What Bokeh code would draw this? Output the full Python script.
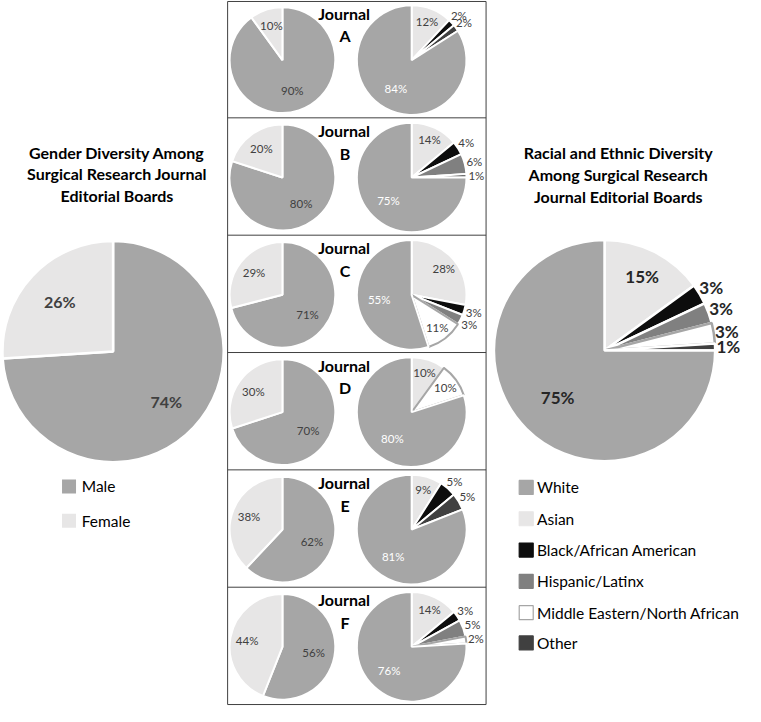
import numpy as np
from bokeh.plotting import figure
from bokeh.models import ColumnDataSource, Range1d
from bokeh.core.properties import value
from bokeh.embed import file_html
from bokeh.resources import INLINE

# ---------------- data ----------------
journals = ["A", "B", "C", "D", "E", "F"]
gender_cats = ["Male", "Female"]
male = [90, 80, 71, 70, 62, 56]
female = [10, 20, 29, 30, 38, 44]

race_cats = ["White", "Asian", "Black/African American", "Hispanic/Latinx",
             "Middle Eastern/North African", "Other"]
white = [84, 75, 55, 80, 81, 76]
asian = [12, 14, 28, 10, 9, 14]
black = [2, 4, 3, 0, 5, 3]
hispanic = [0, 6, 3, 0, 0, 5]
mena = [0, 0, 11, 10, 0, 2]
other = [2, 1, 0, 0, 5, 0]

overall_gender = [74, 26]            # Male, Female
overall_race = [75, 15, 3, 3, 3, 1]  # White, Asian, Black, Hispanic, MENA, Other

gender_title = ["Gender Diversity Among", "Surgical Research Journal", "Editorial Boards"]
race_title = ["Racial and Ethnic Diversity", "Among Surgical Research", "Journal Editorial Boards"]

# ---------------- styles ----------------
GCOL = {"Male": "#a6a6a6", "Female": "#e7e6e6"}
RCOL = {"White": "#a6a6a6", "Asian": "#e7e6e6", "Black/African American": "#0d0d0d",
        "Hispanic/Latinx": "#808080", "Middle Eastern/North African": "#ffffff",
        "Other": "#404040"}
RLINE = {c: "white" for c in race_cats}
RLINE["Middle Eastern/North African"] = "#a6a6a6"
FONT = value("Lato")
H = 722.0

p = figure(width=745, height=706, x_range=Range1d(0, 761), y_range=Range1d(0, H),
           output_backend="svg", toolbar_location=None, min_border=0)
p.axis.visible = False
p.grid.visible = False
p.outline_line_color = None
p.background_fill_color = "white"


def Y(v):
    return H - v


def pie(cx, cy, r, vals, cats, colors, lines, lw=2):
    vals = np.array(vals, dtype=float)
    frac = vals / vals.sum()
    cum = np.concatenate([[0], np.cumsum(frac)])
    keep = frac > 0
    src = ColumnDataSource(dict(
        start=(np.pi / 2 - 2 * np.pi * cum[1:])[keep],
        end=(np.pi / 2 - 2 * np.pi * cum[:-1])[keep],
        color=[colors[c] for c, k in zip(cats, keep) if k],
        line=[lines[c] for c, k in zip(cats, keep) if k],
    ))
    p.wedge(x=cx, y=Y(cy), radius=r, start_angle="start", end_angle="end",
            fill_color="color", line_color="line", line_width=lw, source=src)
    mids = (cum[:-1] + cum[1:]) / 2 * 2 * np.pi
    return frac, mids


def labels(cx, cy, r, vals, mids, ks, colors, size, bold):
    xs, ys, ts, cs = [], [], [], []
    for v, m, k, c in zip(vals, mids, ks, colors):
        if v <= 0:
            continue
        xs.append(cx + k * r * np.sin(m))
        ys.append(Y(cy) + k * r * np.cos(m))
        ts.append(f"{v:g}%")
        cs.append(c)
    p.text(x=xs, y=ys, text=ts, text_color=cs, text_font=FONT,
           text_font_size=size, text_font_style="bold" if bold else "normal",
           text_align="center", text_baseline="middle")


# ---------------- left: overall gender ----------------
g_order = ["Male", "Female"]
gv = overall_gender
fr, md = pie(115, 359, 113, gv, g_order, GCOL, {c: "white" for c in g_order}, 2.5)
labels(115, 359, 113, gv, md, [0.66, 0.66], ["#404040", "#404040"], "16px", True)

p.text(x=[119] * 3, y=[Y(155), Y(177), Y(199)], text=gender_title, text_font=FONT,
       text_font_size="16px", text_font_style="bold", text_color="black",
       text_align="center", text_baseline="middle")

p.scatter(x=[70, 70], y=[Y(497), Y(532)], marker="square", size=14,
          fill_color=[GCOL[c] for c in gender_cats], line_color=None)
p.text(x=[83, 83], y=[Y(497), Y(532)], text=gender_cats, text_font=FONT,
       text_font_size="15.5px", text_color="black", text_baseline="middle")

# ---------------- right: overall race ----------------
r_order = ["Asian", "Black/African American", "Hispanic/Latinx",
           "Middle Eastern/North African", "Other", "White"]
ov = dict(zip(race_cats, overall_race))
rv = [ov[c] for c in r_order]
fr, md = pie(617, 358, 113, rv, r_order, RCOL, RLINE, 2.5)
ks = [0.75 if v >= 9 else 1.12 for v in rv]
ks[-1] = 0.6
labels(617, 358, 113, rv, md, ks, ["#262626"] * 6, "17px", True)

p.text(x=[631] * 3, y=[Y(155), Y(178), Y(200)], text=race_title, text_font=FONT,
       text_font_size="16px", text_font_style="bold", text_color="black",
       text_align="center", text_baseline="middle")

ly = [498, 530, 562, 594, 626, 657]
p.scatter(x=[537] * 6, y=[Y(v) for v in ly], marker="square", size=14,
          fill_color=[RCOL[c] for c in race_cats],
          line_color=[RLINE[c] if c == "Middle Eastern/North African" else RCOL[c] for c in race_cats],
          line_width=1.2)
p.text(x=[548] * 6, y=[Y(v) for v in ly], text=race_cats, text_font=FONT,
       text_font_size="15.5px", text_color="black", text_baseline="middle")

# ---------------- centre: journals ----------------
race_series = dict(zip(race_cats, [white, asian, black, hispanic, mena, other]))
for i, j in enumerate(journals):
    top = 120 * i
    cy = top + 61
    # gender
    gv = [male[i], female[i]]
    fr, md = pie(288, cy, 54, gv, g_order, GCOL, {c: "white" for c in g_order}, 2)
    labels(288, cy, 54, gv, md, [0.6, 0.68], ["#404040", "#404040"], "11.5px", False)
    # race
    rv = [race_series[c][i] for c in r_order]
    fr, md = pie(420, cy, 56, rv, r_order, RCOL, RLINE, 2)
    ks = [0.76 if v >= 9 else 1.18 for v in rv]
    ks[-1] = 0.6
    cols = ["#404040"] * 5 + ["white"]
    labels(420, cy, 56, rv, md, ks, cols, "11.5px", False)
    # title
    p.text(x=[351, 352], y=[Y(top + 13), Y(top + 36)], text=["Journal", j],
           text_font=FONT, text_font_size="16px", text_font_style="bold",
           text_color="black", text_align="center", text_baseline="middle")

# box and dividers
p.quad(left=232, right=496, bottom=Y(720), top=Y(1), fill_color=None,
       line_color="#404040", line_width=1)
p.segment(x0=232, x1=496, y0=[Y(120 * k) for k in range(1, 6)],
          y1=[Y(120 * k) for k in range(1, 6)], line_color="#404040", line_width=1)

open("out.html", "w").write(file_html(p, INLINE))
